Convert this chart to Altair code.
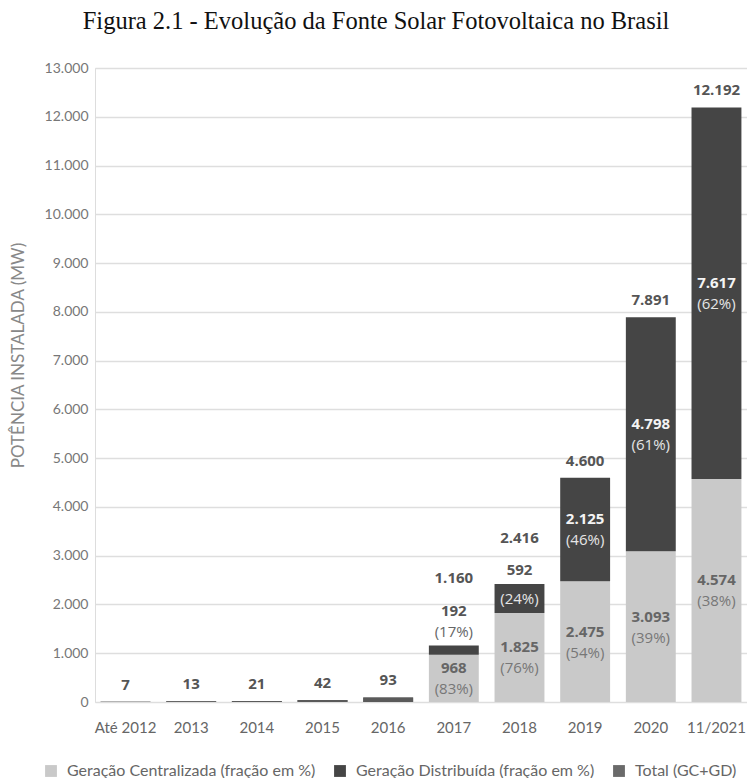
import altair as alt
import pandas as pd

# Potência instalada acumulada (MW) por ano
categorias = ["Até 2012", "2013", "2014", "2015", "2016",
              "2017", "2018", "2019", "2020", "11/2021"]
total_mw = [7, 13, 21, 42, 93, 1160, 2416, 4600, 7891, 12192]

# Anos com divisão entre geração centralizada (GC) e distribuída (GD)
anos_divididos = ["2017", "2018", "2019", "2020", "11/2021"]
gc_mw = [968, 1825, 2475, 3093, 4574]
gd_mw = [192, 592, 2125, 4798, 7617]
gc_pct = [83, 76, 54, 39, 38]
gd_pct = [17, 24, 46, 61, 62]
# onde fica o rótulo da GD: acima da barra, misto (número acima, % dentro) ou dentro
gd_posicao = ["acima", "misto", "dentro", "dentro", "dentro"]

SERIE_GC = "Geração Centralizada (fração em %)"
SERIE_GD = "Geração Distribuída (fração em %)"
SERIE_TOT = "Total (GC+GD)"

COR_GC = "#c9c9c9"
COR_GD = "#454545"
COR_TOT = "#5a5a5a"
FONTE = "Lato"
FONTE_ROTULO = "Open Sans"


def milhar(v):
    return f"{v:,}".replace(",", ".")


# ---- barras empilhadas ----
barras = []
for cat, tot in zip(categorias, total_mw):
    if cat in anos_divididos:
        i = anos_divididos.index(cat)
        barras.append({"cat": cat, "serie": SERIE_GC, "valor": gc_mw[i], "ordem": 0})
        barras.append({"cat": cat, "serie": SERIE_GD, "valor": gd_mw[i], "ordem": 1})
    else:
        barras.append({"cat": cat, "serie": SERIE_TOT, "valor": tot, "ordem": 0})
df_barras = pd.DataFrame(barras)

# ---- rótulos ----
rotulos = []
for cat, tot in zip(categorias, total_mw):
    papel = "total"
    if cat in anos_divididos:
        pos = gd_posicao[anos_divididos.index(cat)]
        papel = {"acima": "total_3", "misto": "total_2"}.get(pos, "total")
    rotulos.append({"cat": cat, "y": tot, "texto": milhar(tot), "papel": papel})

for i, cat in enumerate(anos_divididos):
    gc, gd = gc_mw[i], gd_mw[i]
    meio_gc = gc / 2
    meio_gd = gc + gd / 2
    topo = gc + gd
    rotulos.append({"cat": cat, "y": meio_gc, "texto": milhar(gc), "papel": "gc_num"})
    rotulos.append({"cat": cat, "y": meio_gc, "texto": f"({gc_pct[i]}%)", "papel": "gc_pct"})
    pos = gd_posicao[i]
    if pos == "dentro":
        rotulos.append({"cat": cat, "y": meio_gd, "texto": milhar(gd), "papel": "gd_num"})
        rotulos.append({"cat": cat, "y": meio_gd, "texto": f"({gd_pct[i]}%)", "papel": "gd_pct"})
    elif pos == "misto":
        rotulos.append({"cat": cat, "y": topo, "texto": milhar(gd), "papel": "gd_num_fora1"})
        rotulos.append({"cat": cat, "y": meio_gd, "texto": f"({gd_pct[i]}%)", "papel": "gd_pct_meio"})
    else:
        rotulos.append({"cat": cat, "y": topo, "texto": milhar(gd), "papel": "gd_num_fora2"})
        rotulos.append({"cat": cat, "y": topo, "texto": f"({gd_pct[i]}%)", "papel": "gd_pct_fora1"})
df_rotulos = pd.DataFrame(rotulos)

eixo_x = alt.X(
    "cat:N", sort=categorias,
    scale=alt.Scale(paddingInner=0.24, paddingOuter=0.085),
    axis=alt.Axis(title=None, labelAngle=0, ticks=False, domain=False,
                  labelFont=FONTE, labelFontSize=15, labelColor="#666666",
                  labelPadding=18),
)
eixo_y_escala = alt.Scale(domain=[0, 13000], nice=False)

barras_chart = alt.Chart(df_barras).mark_bar().encode(
    x=eixo_x,
    y=alt.Y(
        "valor:Q", stack="zero", scale=eixo_y_escala,
        axis=alt.Axis(
            title="POTÊNCIA INSTALADA (MW)",
            values=list(range(0, 13001, 1000)),
            labelExpr="replace(format(datum.value, ','), ',', '.')",
            ticks=False, domain=False, grid=True,
            gridColor="#dedede", gridWidth=1.5,
            labelFont=FONTE, labelFontSize=14, labelColor="#777777",
            labelPadding=7,
            titleFont=FONTE, titleFontSize=17, titleFontWeight="normal",
            titleColor="#888888", titleX=-77, titleY=287,
            titleBaseline="middle",
        ),
    ),
    color=alt.Color(
        "serie:N",
        scale=alt.Scale(domain=[SERIE_GC, SERIE_GD, SERIE_TOT],
                        range=[COR_GC, COR_GD, "#6a6a6a"]),
        legend=alt.Legend(
            title=None, orient="none", direction="horizontal",
            legendX=-52, legendY=695,
            symbolType="square", symbolSize=140, symbolStrokeWidth=0,
            labelFont=FONTE, labelFontSize=16, labelColor="#666666",
            labelLimit=0, columnPadding=16, labelOffset=8,
        ),
    ),
    order=alt.Order("ordem:Q"),
)

# as barras sem divisão usam um cinza um pouco mais escuro que o símbolo da legenda
barras_total = alt.Chart(df_barras).transform_filter(
    alt.datum.serie == SERIE_TOT
).mark_bar(color=COR_TOT).encode(
    x=alt.X("cat:N", sort=categorias),
    y=alt.Y("valor:Q", stack="zero"),
)

papeis = [
    # papel, dy, peso, cor
    ("total", -17, "bold", "#555555"),
    ("total_2", -46, "bold", "#555555"),
    ("total_3", -67, "bold", "#555555"),
    ("gc_num", -10, "bold", "#666666"),
    ("gc_pct", 11, "normal", "#777777"),
    ("gd_num", -10, "bold", "#f4f4f4"),
    ("gd_pct", 11, "normal", "#e6e6e6"),
    ("gd_num_fora1", -14, "bold", "#555555"),
    ("gd_pct_meio", 0, "normal", "#e6e6e6"),
    ("gd_num_fora2", -34, "bold", "#555555"),
    ("gd_pct_fora1", -13, "normal", "#666666"),
]

camadas_texto = []
for papel, dy, peso, cor in papeis:
    camadas_texto.append(
        alt.Chart(df_rotulos).transform_filter(alt.datum.papel == papel)
        .mark_text(dy=dy, fontWeight=peso, color=cor, font=FONTE_ROTULO,
                   fontSize=15, baseline="middle", align="center")
        .encode(
            x=alt.X("cat:N", sort=categorias),
            y=alt.Y("y:Q", stack=None),
            text="texto:N",
        )
    )

chart = alt.layer(barras_chart, barras_total, *camadas_texto).properties(
    width=652,
    height=634,
    title=alt.TitleParams(
        "Figura 2.1 - Evolução da Fonte Solar Fotovoltaica no Brasil",
        font="Liberation Serif", fontSize=24.5, fontWeight="normal",
        color="#111111", anchor="middle", dx=-45, offset=27,
    ),
    autosize=alt.AutoSizeParams(type="none"),
    padding={"left": 95, "top": 68, "right": 0, "bottom": 76},
).configure_view(stroke=None).configure(background="white")

chart.save("out.html", embed_options={"renderer": "svg", "actions": False})
